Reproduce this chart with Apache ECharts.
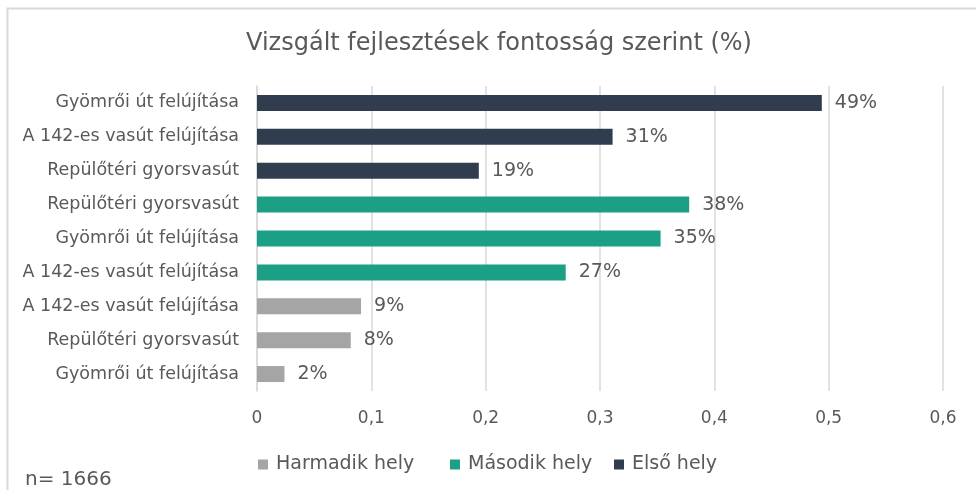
<!DOCTYPE html>
<html>
<head>
<meta charset="utf-8">
<script src="https://cdn.jsdelivr.net/npm/echarts@6/dist/echarts.min.js"></script>
<style>
  html, body { margin: 0; padding: 0; background: #fff; }
  #chart { width: 976px; height: 490px; }
</style>
</head>
<body>
<div id="chart"></div>
<script>
// kategóriák felülről lefelé
var categories = [
  'Gyömrői út felújítása',
  'A 142-es vasút felújítása',
  'Repülőtéri gyorsvasút',
  'Repülőtéri gyorsvasút',
  'Gyömrői út felújítása',
  'A 142-es vasút felújítása',
  'A 142-es vasút felújítása',
  'Repülőtéri gyorsvasút',
  'Gyömrői út felújítása'
];
var elsoHely     = [0.494, 0.311, 0.194, '-', '-', '-', '-', '-', '-'];
var masodikHely  = ['-', '-', '-', 0.378, 0.353, 0.270, '-', '-', '-'];
var harmadikHely = ['-', '-', '-', '-', '-', '-', 0.091, 0.082, 0.024];
var xTicks = [0, 0.1, 0.2, 0.3, 0.4, 0.5, 0.6];

var FONT = 'DejaVu Sans';
var TXT = '#595959';

var chart = echarts.init(document.getElementById('chart'));

function pct(p) { return Math.round(p.value * 100) + '%'; }

function barSeries(name, data, color) {
  return {
    name: name,
    type: 'bar',
    stack: 'all',
    data: data,
    barWidth: 16,
    itemStyle: { color: color },
    label: {
      show: true,
      position: 'right',
      distance: 13,
      formatter: pct,
      color: TXT,
      fontFamily: FONT,
      fontSize: 19
    }
  };
}

// minden jelmagyarázat elem külön, hogy a helyük stimmeljen
function legendItem(name, left) {
  return {
    data: [name],
    left: left,
    top: 455,
    padding: 0,
    icon: 'rect',
    itemWidth: 10,
    itemHeight: 10,
    textStyle: { color: TXT, fontSize: 19, fontFamily: FONT, padding: [0, 0, 0, 3] }
  };
}

chart.setOption({
  animation: false,
  textStyle: { fontFamily: FONT },
  title: {
    text: 'Vizsgált fejlesztések fontosság szerint (%)',
    left: 494,
    textAlign: 'center',
    top: 27,
    textStyle: { color: TXT, fontSize: 24, fontWeight: 'normal', fontFamily: FONT }
  },
  graphic: [
    {
      type: 'rect',
      shape: { x: 7.5, y: 8.5, width: 1000, height: 500 },
      style: { fill: 'none', stroke: '#d9d9d9', lineWidth: 2 },
      silent: true
    },
    {
      type: 'text',
      left: 25,
      top: 470,
      style: { text: 'n= 1666', fill: TXT, fontSize: 20, fontFamily: FONT }
    }
  ],
  legend: [
    legendItem('Harmadik hely', 258),
    legendItem('Második hely', 450),
    legendItem('Első hely', 614)
  ],
  grid: { left: 257, right: 33, top: 86, bottom: 99, containLabel: false },
  xAxis: {
    type: 'value',
    min: xTicks[0],
    max: xTicks[xTicks.length - 1],
    interval: 0.1,
    axisLine: { show: false },
    axisTick: { show: false },
    splitLine: { show: true, lineStyle: { color: '#d9d9d9', width: 1.5 } },
    axisLabel: {
      color: TXT,
      fontSize: 17,
      fontFamily: FONT,
      margin: 19,
      formatter: function (v) { return String(Math.round(v * 10) / 10).replace('.', ','); }
    }
  },
  yAxis: {
    type: 'category',
    inverse: true,
    data: categories,
    axisLine: { show: true, lineStyle: { color: '#d9d9d9', width: 1.5 } },
    axisTick: { show: false },
    axisLabel: { color: TXT, fontSize: 17.5, fontFamily: FONT, margin: 18 }
  },
  series: [
    barSeries('Harmadik hely', harmadikHely, '#a5a5a5'),
    barSeries('Második hely', masodikHely, '#1ba085'),
    barSeries('Első hely', elsoHely, '#2f3d4f')
  ]
});
</script>
</body>
</html>
